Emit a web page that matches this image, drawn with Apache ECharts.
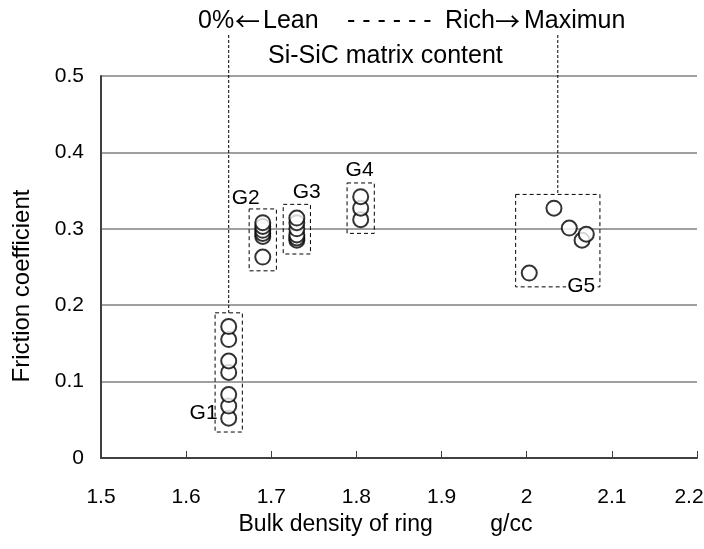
<!DOCTYPE html>
<html>
<head>
<meta charset="utf-8">
<script src="https://cdn.jsdelivr.net/npm/echarts@6/dist/echarts.min.js"></script>
<style>
  html, body { margin: 0; padding: 0; background: #fff; }
  #chart { width: 704px; height: 549px; }
</style>
</head>
<body>
<div id="chart"></div>
<script>
// Friction coefficient versus ring bulk density, grouped G1..G5
const groupNames = ['G1', 'G2', 'G3', 'G4', 'G5'];
const g1Density = [1.65, 1.65, 1.65, 1.65, 1.65, 1.65, 1.65];
const g1Friction = [0.052, 0.068, 0.083, 0.112, 0.127, 0.155, 0.172];
const g2Density = [1.69, 1.69, 1.69, 1.69, 1.69, 1.69];
const g2Friction = [0.263, 0.290, 0.294, 0.298, 0.303, 0.308];
const g3Density = [1.73, 1.73, 1.73, 1.73, 1.73, 1.73];
const g3Friction = [0.285, 0.288, 0.292, 0.300, 0.308, 0.314];
const g4Density = [1.805, 1.805, 1.805];
const g4Friction = [0.312, 0.327, 0.342];
const g5Density = [2.003, 2.032, 2.05, 2.065, 2.07];
const g5Friction = [0.242, 0.327, 0.301, 0.285, 0.293];
const xTicks = [1.5, 1.6, 1.7, 1.8, 1.9, 2, 2.1, 2.2];
const yTicks = [0, 0.1, 0.2, 0.3, 0.4, 0.5];

const groups = [
  [g1Density, g1Friction],
  [g2Density, g2Friction],
  [g3Density, g3Friction],
  [g4Density, g4Friction],
  [g5Density, g5Friction]
];

// Dashed frame padding around each group (data units)
const padX = 0.016, padY = 0.018;
// Group label placement relative to the frame's top-left corner (px)
const labelPos = [[-11, 101], [-3, -10], [24, -12], [13, -12], [66, 92]];

const FONT = 'Liberation Sans, Arial, sans-serif';
const ARROW_FONT = 'Noto Sans CJK JP, sans-serif';

function bounds(xs, ys) {
  return {
    x0: Math.min(...xs) - padX, x1: Math.max(...xs) + padX,
    y0: Math.min(...ys) - padY, y1: Math.max(...ys) + padY
  };
}

function tickText(v) {
  return String(parseFloat(v.toFixed(1)));
}

const series = groups.map(([xs, ys], i) => {
  const b = bounds(xs, ys);
  return {
    name: groupNames[i],
    type: 'scatter',
    data: xs.map((x, k) => [x, ys[k]]),
    symbol: 'circle',
    symbolSize: 15,
    itemStyle: { color: '#fff', borderColor: '#000', borderWidth: 2 },
    emphasis: { disabled: true },
    z: 5,
    markArea: {
      silent: true,
      itemStyle: { color: 'rgba(0,0,0,0)', borderColor: '#000', borderWidth: 1, borderType: [4, 3] },
      label: {
        show: true,
        position: labelPos[i],
        align: 'center',
        verticalAlign: 'middle',
        color: '#000',
        fontFamily: FONT,
        fontSize: 21,
        backgroundColor: i === 4 ? '#fff' : 'transparent',
        padding: [0, 1]
      },
      data: [[{ name: groupNames[i], coord: [b.x0, b.y1] }, { coord: [b.x1, b.y0] }]]
    }
  };
});

const chart = echarts.init(document.getElementById('chart'), null, { renderer: 'canvas' });

const lastX = xTicks[xTicks.length - 1];

chart.setOption({
  animation: false,
  backgroundColor: '#fff',
  grid: { left: 101, right: 7, top: 76, bottom: 91, outerBoundsMode: 'none', containLabel: false },
  xAxis: {
    type: 'value',
    min: xTicks[0], max: lastX, interval: 0.1,
    name: 'Bulk density of ring         g/cc',
    nameLocation: 'middle',
    nameGap: 54,
    nameTextStyle: { color: '#000', fontFamily: FONT, fontSize: 23, padding: [0, 27, 0, 0] },
    axisLine: { lineStyle: { color: '#404040', width: 2 } },
    axisTick: { show: true, inside: true, length: 7, lineStyle: { color: '#404040', width: 1 } },
    axisLabel: {
      color: '#000', fontFamily: FONT, fontSize: 21, margin: 29,
      // keep the last label inside the canvas edge
      formatter: v => Math.abs(v - lastX) < 1e-9 ? '{edge|' + tickText(v) + '}' : tickText(v),
      rich: { edge: { color: '#000', fontFamily: FONT, fontSize: 21, padding: [0, 16, 0, 0] } }
    },
    splitLine: { show: false }
  },
  yAxis: {
    type: 'value',
    min: yTicks[0], max: yTicks[yTicks.length - 1], interval: 0.1,
    name: 'Friction coefficient',
    nameLocation: 'middle',
    nameGap: 67,
    nameTextStyle: { color: '#000', fontFamily: FONT, fontSize: 24, padding: [0, 38, 0, 0] },
    axisLine: { show: true, lineStyle: { color: '#404040', width: 2 } },
    axisTick: { show: false },
    axisLabel: { color: '#000', fontFamily: FONT, fontSize: 21, margin: 17, formatter: tickText },
    splitLine: { lineStyle: { color: '#808080', width: 1.6 } }
  },
  series: series
});

// Header annotation and dashed leaders down to the G1 and G5 frames
const b1 = bounds(g1Density, g1Friction);
const b5 = bounds(g5Density, g5Friction);
const p1 = chart.convertToPixel({ seriesIndex: 0 }, [(b1.x0 + b1.x1) / 2, b1.y1]);
const p5 = chart.convertToPixel({ seriesIndex: 4 }, [(b5.x0 + b5.x1) / 2, b5.y1]);

const headerY = 21;
function headerText(x, text, font) {
  return { type: 'text', x: x, y: headerY,
    style: { text: text, fill: '#000', font: font, verticalAlign: 'middle' } };
}

chart.setOption({
  graphic: [
    headerText(198, '0%', '25px ' + FONT),
    headerText(235, '\u2190', '25px ' + ARROW_FONT),
    headerText(263, 'Lean', '25px ' + FONT),
    headerText(347, '- - - - - -', '25px ' + FONT),
    headerText(445, 'Rich', '25px ' + FONT),
    headerText(495, '\u2192', '25px ' + ARROW_FONT),
    headerText(524, 'Maximun', '25px ' + FONT),
    { type: 'text', x: 268, y: 56,
      style: { text: 'Si-SiC matrix content', fill: '#000', font: '25px ' + FONT, verticalAlign: 'middle' } },
    { type: 'line', shape: { x1: p1[0], y1: 35, x2: p1[0], y2: p1[1] },
      style: { stroke: '#000', lineWidth: 1, lineDash: [3, 2] }, z: 10 },
    { type: 'line', shape: { x1: p5[0], y1: 35, x2: p5[0], y2: p5[1] },
      style: { stroke: '#000', lineWidth: 1, lineDash: [3, 2] }, z: 10 }
  ]
});
</script>
</body>
</html>
